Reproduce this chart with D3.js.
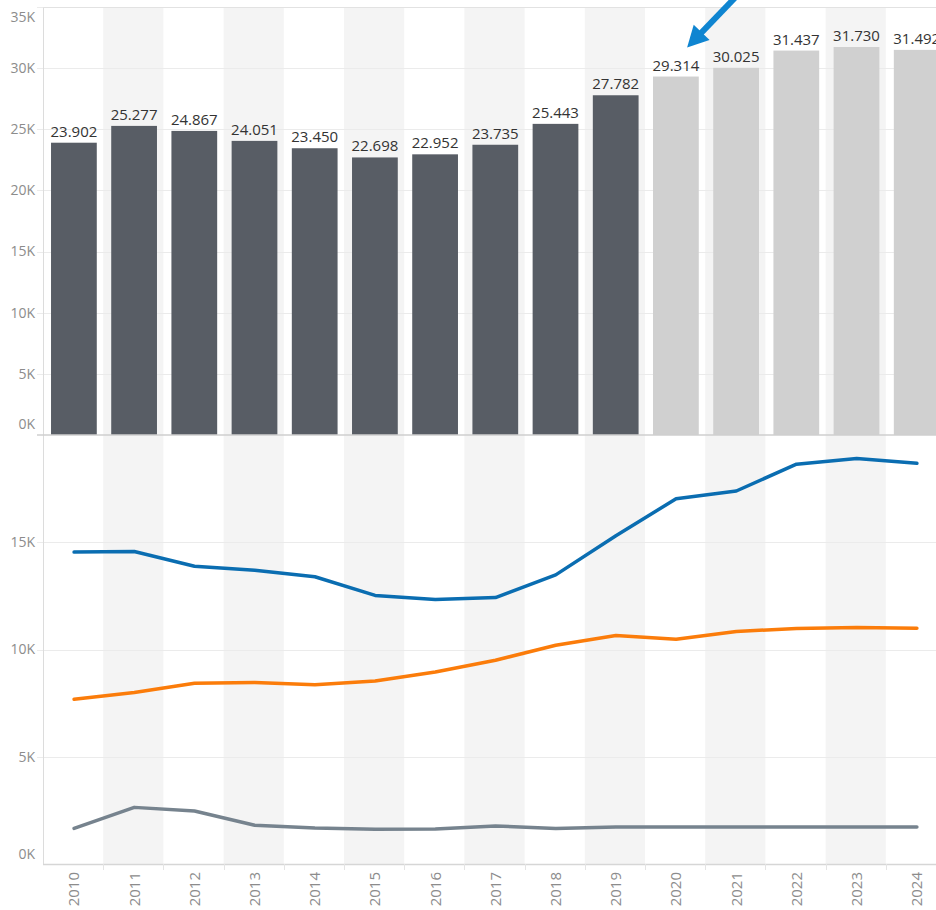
<!DOCTYPE html>
<html>
<head>
<meta charset="utf-8">
<script src="https://cdn.jsdelivr.net/npm/d3@7"></script>
<style>
html,body{margin:0;padding:0;background:#fff;}
svg{display:block;font-family:"Open Sans","Noto Sans",sans-serif;}
</style>
</head>
<body>
<svg id="chart" width="936" height="910"></svg>
<script>
// ---- data ----
const years = [2010,2011,2012,2013,2014,2015,2016,2017,2018,2019,2020,2021,2022,2023,2024];
const totals = [23902,25277,24867,24051,23450,22698,22952,23735,25443,27782,29314,30025,31437,31730,31492];
const totalLabels = ["23.902","25.277","24.867","24.051","23.450","22.698","22.952","23.735","25.443","27.782","29.314","30.025","31.437","31.730","31.492"];
const forecastFrom = 2020;
const seriesBlue = [14540,14570,13880,13690,13390,12520,12330,12420,13480,15300,17030,17390,18640,18900,18680];
const seriesOrange = [7680,8000,8430,8460,8360,8530,8950,9500,10200,10650,10480,10840,10980,11020,10990];
const seriesGray = [1660,2640,2470,1810,1680,1620,1630,1770,1660,1720,1720,1720,1720,1720,1720];
const topTicks = [0,5000,10000,15000,20000,25000,30000,35000];
const bottomTicks = [0,5000,10000,15000];
const tickFmt = v => (v/1000) + "K";

// ---- layout ----
const svg = d3.select("#chart");
const left = 43, step = 60.2;
const topY0 = 7, split = 435, botY1 = 864;

const x = d3.scaleBand().domain(years).range([left, left + step*years.length]).padding(0);
const yTop = d3.scaleLinear().domain([0,35000]).range([split, topY0]);
const yBot = d3.scaleLinear().domain([0,20000]).range([botY1, split]);

// alternating column bands
svg.append("g").selectAll("rect").data(years.filter((d,i)=>i%2===1)).join("rect")
  .attr("x", d=>x(d)).attr("y", topY0).attr("width", x.bandwidth()).attr("height", botY1-topY0)
  .attr("fill", "#f4f4f4");

// gridlines
const grid = svg.append("g").attr("stroke", "#ebebeb").attr("stroke-width", 1);
grid.selectAll("line.t").data(topTicks.filter(d=>d>0)).join("line")
  .attr("x1", left-6).attr("x2", 936).attr("y1", d=>Math.round(yTop(d))+0.5).attr("y2", d=>Math.round(yTop(d))+0.5);
grid.selectAll("line.b").data(bottomTicks.filter(d=>d>0)).join("line")
  .attr("x1", left-6).attr("x2", 936).attr("y1", d=>Math.round(yBot(d))+0.5).attr("y2", d=>Math.round(yBot(d))+0.5);

// bars
const bw = x.bandwidth()*0.76;
svg.append("g").selectAll("rect").data(years).join("rect")
  .attr("x", d=>x(d) + (x.bandwidth()-bw)/2 + 0.8)
  .attr("y", (d,i)=>yTop(totals[i]))
  .attr("width", bw)
  .attr("height", (d,i)=>yTop(0)-yTop(totals[i]))
  .attr("fill", d=> d>=forecastFrom ? "#d0d0d0" : "#585d65");

// bar labels
svg.append("g").selectAll("text").data(years).join("text")
  .attr("x", d=>x(d)+x.bandwidth()/2+0.8)
  .attr("y", (d,i)=>yTop(totals[i]) - 6)
  .attr("text-anchor","middle")
  .attr("font-size", 15).attr("fill","#333")
  .text((d,i)=>totalLabels[i]);

// axes lines
const axisG = svg.append("g");
axisG.append("line").attr("x1", left+0.5).attr("x2", left+0.5).attr("y1", topY0).attr("y2", botY1).attr("stroke","#dcdcdc");
axisG.append("line").attr("x1", left).attr("x2", 936).attr("y1", topY0+0.5).attr("y2", topY0+0.5).attr("stroke","#e2e2e2");
axisG.append("line").attr("x1", left-6).attr("x2", 936).attr("y1", split).attr("y2", split).attr("stroke","#cfcfcf").attr("stroke-width",1.5);
axisG.append("line").attr("x1", left).attr("x2", 936).attr("y1", botY1+0.5).attr("y2", botY1+0.5).attr("stroke","#d6d6d6").attr("stroke-width",1.5);
// x tick marks at column boundaries
axisG.selectAll("line.xt").data(years.slice(1)).join("line")
  .attr("x1", d=>Math.round(x(d))+0.5).attr("x2", d=>Math.round(x(d))+0.5)
  .attr("y1", botY1).attr("y2", botY1+6).attr("stroke","#e4e4e4");

// y labels
const lblColor = "#8c8c8c";
svg.append("g").selectAll("text").data(topTicks).join("text")
  .attr("x", 35).attr("y", d=> yTop(d) + (d===35000 ? 10 : d===0 ? -11 : 0))
  .attr("dy","0.35em").attr("text-anchor","end").attr("font-size",14).attr("fill",lblColor)
  .text(tickFmt);
svg.append("g").selectAll("text").data(bottomTicks).join("text")
  .attr("x", 35).attr("y", d=> yBot(d) + (d===0 ? -10 : 0))
  .attr("dy","0.35em").attr("text-anchor","end").attr("font-size",14).attr("fill",lblColor)
  .text(tickFmt);

// x labels (rotated)
svg.append("g").selectAll("text").data(years).join("text")
  .attr("transform", d=>`translate(${x(d)+x.bandwidth()/2+1},${botY1+8}) rotate(-90)`)
  .attr("text-anchor","end").attr("dy","0.35em").attr("font-size",15).attr("fill",lblColor)
  .text(d=>d);

// lines
const line = d3.line().x((d,i)=>x(years[i])+x.bandwidth()/2+1).y(d=>yBot(d));
[[seriesGray,"#76838e"],[seriesOrange,"#fb7c0a"],[seriesBlue,"#0a6db1"]].forEach(([s,c])=>{
  svg.append("path").datum(s).attr("d", line).attr("fill","none").attr("stroke",c)
    .attr("stroke-width",3.5).attr("stroke-linejoin","round").attr("stroke-linecap","round");
});

// annotation arrow pointing at the first forecast year
const iF = years.indexOf(forecastFrom);
const tipX = x(forecastFrom) + x.bandwidth()/2 + 12;
const tipY = yTop(totals[iF]) - 29;
const dir = [50/Math.hypot(50,52), -52/Math.hypot(50,52)];
const perp = [-dir[1], dir[0]];
const headLen = 21, headW = 11;
const bx = tipX + dir[0]*headLen, by = tipY + dir[1]*headLen;
svg.append("line").attr("x1", bx - dir[0]*2).attr("y1", by - dir[1]*2)
  .attr("x2", tipX + dir[0]*90).attr("y2", tipY + dir[1]*90)
  .attr("stroke","#0f85d1").attr("stroke-width",6);
svg.append("path")
  .attr("d", `M${tipX},${tipY}L${bx+perp[0]*headW},${by+perp[1]*headW}L${bx-perp[0]*headW},${by-perp[1]*headW}Z`)
  .attr("fill","#0f85d1");
</script>
</body>
</html>
